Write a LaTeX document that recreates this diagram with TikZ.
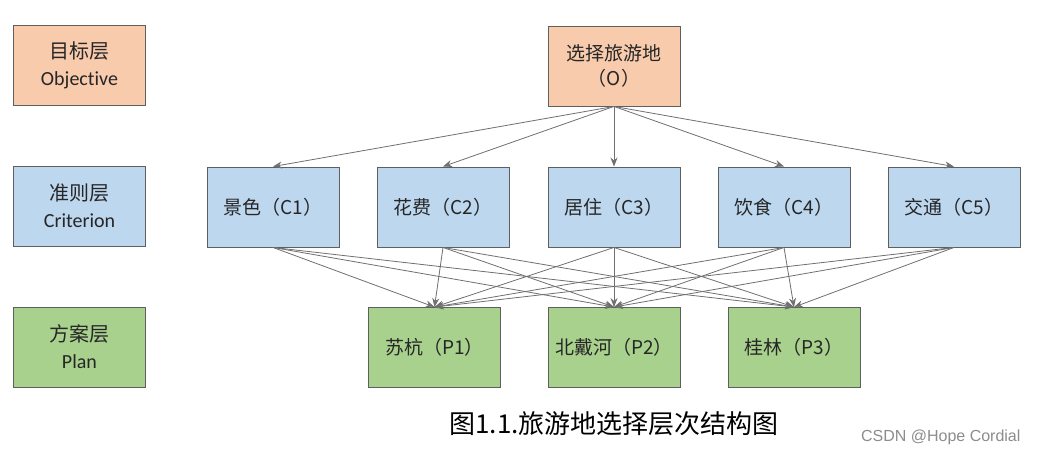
\documentclass[tikz,border=0pt]{standalone}
\usepackage{fontspec}
\setmainfont{Carlito}[Ligatures=NoCommon]
\newfontfamily\cjk{Noto Sans CJK SC}
\newfontfamily\wmfont{Liberation Sans}
\usetikzlibrary{arrows.meta}
\definecolor{objfill}{HTML}{F8CBAD}
\definecolor{crifill}{HTML}{BDD7EE}
\definecolor{plafill}{HTML}{A9D18E}
\definecolor{boxline}{HTML}{5F5F5F}
\definecolor{linkgray}{HTML}{6F6F6F}

\begin{document}
\begin{tikzpicture}[x=1pt,y=-1pt,
    box/.style={draw=boxline,line width=0.9pt,minimum width=132pt,
      minimum height=80pt,inner sep=0pt,align=center,text=black!85},
    layer/.style={box,font=\fontsize{20}{27}\selectfont},
    item/.style={box,font=\cjk\fontsize{19}{25}\selectfont},
    link/.style={draw=linkgray,line width=0.8pt,
      -{Stealth[length=9pt,width=7pt]}}]
  \useasboundingbox (0,0) rectangle (1037,454);

  % left column: layer names
  \node[layer,fill=objfill] (lobj) at (79.5, 65) {{\cjk 目标层}\\Objective};
  \node[layer,fill=crifill] (lcri) at (79.5,206) {{\cjk 准则层}\\Criterion};
  \node[layer,fill=plafill] (lpla) at (79.5,347) {{\cjk 方案层}\\Plan};

  % goal
  \node[item,fill=objfill] (o) at (614, 66) {选择旅游地\\（O）};

  % criteria
  \node[item,fill=crifill] (c1) at (273,207) {景色（C1）};
  \node[item,fill=crifill] (c2) at (443,207) {花费（C2）};
  \node[item,fill=crifill] (c3) at (614,207) {居住（C3）};
  \node[item,fill=crifill] (c4) at (784,207) {饮食（C4）};
  \node[item,fill=crifill] (c5) at (954,207) {交通（C5）};

  % plans
  \node[item,fill=plafill] (p1) at (434.5,347.5) {苏杭（P1）};
  \node[item,fill=plafill] (p2) at (614,347.5) {北戴河（P2）};
  \node[item,fill=plafill] (p3) at (794,347.5) {桂林（P3）};

  \draw[link] (o.south) -- (c1.north); \draw[link] (o.south) -- (c2.north);
  \draw[link] (o.south) -- (c3.north); \draw[link] (o.south) -- (c4.north);
  \draw[link] (o.south) -- (c5.north);

  \draw[link] (c1.south) -- (p1.north); \draw[link] (c1.south) -- (p2.north);
  \draw[link] (c1.south) -- (p3.north);
  \draw[link] (c2.south) -- (p1.north); \draw[link] (c2.south) -- (p2.north);
  \draw[link] (c2.south) -- (p3.north);
  \draw[link] (c3.south) -- (p1.north); \draw[link] (c3.south) -- (p2.north);
  \draw[link] (c3.south) -- (p3.north);
  \draw[link] (c4.south) -- (p1.north); \draw[link] (c4.south) -- (p2.north);
  \draw[link] (c4.south) -- (p3.north);
  \draw[link] (c5.south) -- (p1.north); \draw[link] (c5.south) -- (p2.north);
  \draw[link] (c5.south) -- (p3.north);

  \node[font=\cjk\fontsize{26}{30}\selectfont] (cap) at (614,424)
    {图1.1.旅游地选择层次结构图};
  \node[font=\wmfont\fontsize{16}{18}\selectfont,text=black!45,anchor=east]
    (wm) at (1024,437) {CSDN @Hope Cordial};
\end{tikzpicture}
\end{document}
